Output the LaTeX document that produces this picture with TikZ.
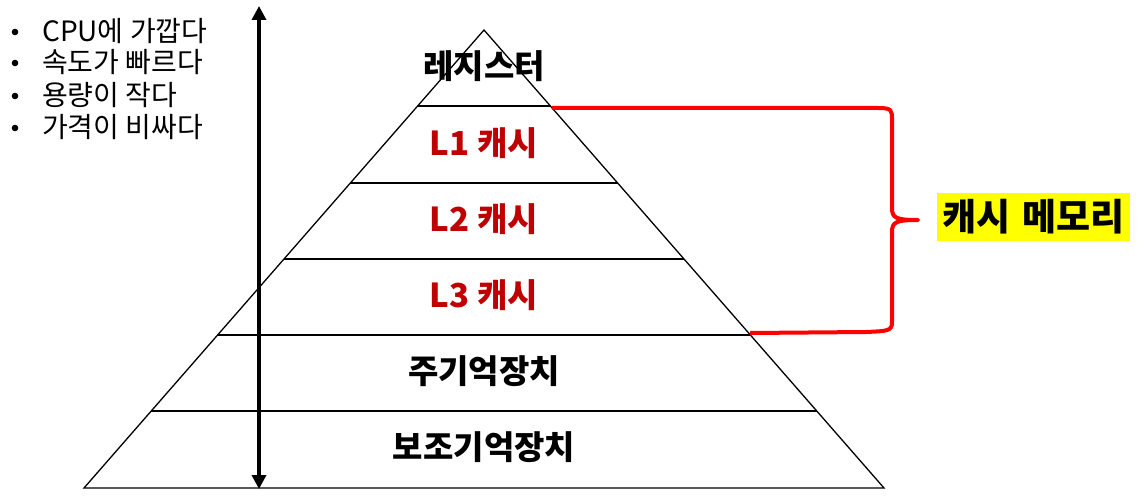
\documentclass[tikz,border=0pt]{standalone}
\usepackage{fontspec}
\setmainfont{Noto Sans CJK KR}
\usetikzlibrary{arrows.meta}
\definecolor{darkred}{RGB}{192,0,0}
\definecolor{hl}{RGB}{255,255,0}
\tikzset{
  layer/.style={font=\fontsize{33}{36}\selectfont\bfseries, anchor=center, inner sep=0pt},
  cache/.style={layer, text=darkred},
  bullet/.style={font=\fontsize{28}{30}\selectfont, anchor=west, inner sep=0pt},
  edge/.style={line width=1.3pt},
}
\begin{document}
\begin{tikzpicture}[x=1pt,y=-1pt]
\useasboundingbox (0,0) rectangle (1142,497);
% pyramid
\coordinate (apex) at (484,30);
\coordinate (bl) at (84,488);
\coordinate (br) at (884,488);
\draw[edge] (bl) -- (apex) -- (br) -- cycle;
\foreach \y/\n in {106/a,183/b,259/c,335/d,411/e}{
  \pgfmathsetmacro{\hw}{(\y-30)*0.873362}
  \coordinate (\n l) at ({484-\hw},\y);
  \coordinate (\n r) at ({484+\hw},\y);
  \draw[edge] (\n l) -- (\n r);
}
% labels
\node[layer] (reg) at (484,66) {레지스터};
\node[cache] (l1) at (484,143) {L1 캐시};
\node[cache] (l2) at (484,219) {L2 캐시};
\node[cache] (l3) at (484,295) {L3 캐시};
\node[layer] (main) at (484,371) {주기억장치};
\node[layer] (aux) at (484,447) {보조기억장치};
% arrow
\coordinate (atop) at (259,6);
\coordinate (abot) at (259,489);
\draw[line width=3.5pt, {Triangle[length=14pt,width=14pt]}-{Triangle[length=14pt,width=14pt]}] (atop) -- (abot);
% bullets
\foreach \y/\t in {31/{CPU에 가깝다},62/{속도가 빠르다},95/{용량이 작다},127/{가격이 비싸다}}{
  \fill (15,\y+1) circle (3.3);
  \node[bullet] at (42,\y) {\t};
}
% brace
\coordinate (btop) at (552,108);
\coordinate (bbot) at (750,333);
\coordinate (btip) at (918,220);
\draw[red, line width=4pt, line join=round]
  (btop) -- (878,108) .. controls (892,108) and (892,110) .. (892,120)
  -- (892,208) .. controls (892,218) and (896,220) .. (btip)
  .. controls (896,220) and (892,222) .. (892,232)
  -- (892,322) .. controls (892,331) and (888,331) .. (866,332)
  -- (bbot);
\node[fill=hl, inner sep=0pt, minimum width=193pt, minimum height=48pt,
  font=\fontsize{37}{40}\selectfont\bfseries] (cm) at (1033.5,217) {캐시\hspace{0.3em}메모리};
\end{tikzpicture}
\end{document}
